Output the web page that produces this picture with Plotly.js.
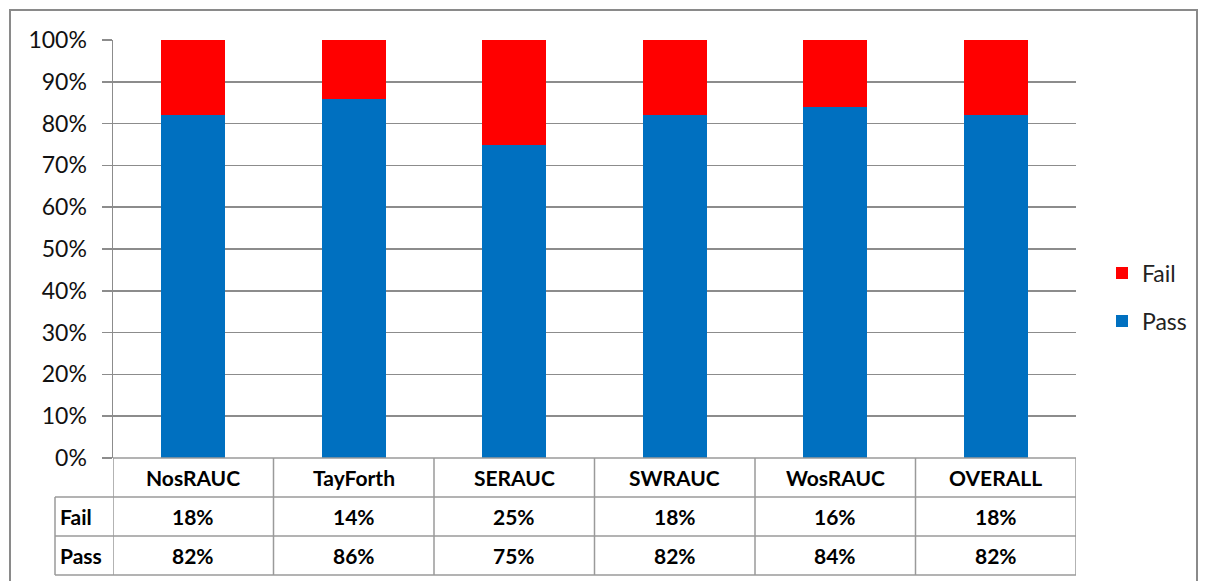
<!DOCTYPE html>
<html>
<head>
<meta charset="utf-8">
<script src="https://cdn.plot.ly/plotly-3.0.1.min.js"></script>
<style>
  html, body { margin: 0; padding: 0; background: #fff; }
  #chart { width: 1208px; height: 581px; }
</style>
</head>
<body>
<div id="chart"></div>
<script>
// Pass / fail share by region
const regions = ['NosRAUC', 'TayForth', 'SERAUC', 'SWRAUC', 'WosRAUC', 'OVERALL'];
const passPct = [82, 86, 75, 82, 84, 82];
const failPct = [18, 14, 25, 18, 16, 18];
const yTicks = [0, 10, 20, 30, 40, 50, 60, 70, 80, 90, 100];

const FONT = 'Lato, "Open Sans", "Liberation Sans", sans-serif';
const GRID = '#8c8c8c';
const TABLE = '#9a9a9a';

const traces = [
  {
    type: 'bar', name: 'Pass', x: regions, y: passPct.map(v => v / 100),
    marker: { color: '#0070C0' }, legend: 'legend2', showlegend: true, hoverinfo: 'x+y'
  },
  {
    type: 'bar', name: 'Fail', x: regions, y: failPct.map(v => v / 100),
    marker: { color: '#FF0000' }, legend: 'legend', showlegend: true, hoverinfo: 'x+y'
  }
];

// Data table under the plot: row edges in paper units
const rowH = 39 / 418;
const yHeadBot = -rowH, yFailBot = -2 * rowH, yPassBot = -3 * rowH;
const xLabelCol = (55 - 113) / 963;

const shapes = [];
function line(xref, x0, x1, y0, y1, color, w) {
  shapes.push({ type: 'line', xref: xref, yref: 'paper', x0: x0, x1: x1, y0: y0, y1: y1,
    line: { color: color, width: w || 1.5 } });
}
// outer chart frame
shapes.push({ type: 'rect', xref: 'paper', yref: 'paper',
  x0: (10 - 113) / 963, x1: (1197 - 113) / 963, y0: -0.33, y1: (458 - 10) / 418,
  line: { color: '#8a8a8a', width: 2 } });
// horizontal table rules
line('paper', 0, 1, 0, 0, TABLE);
[yHeadBot, yFailBot, yPassBot].forEach(y => line('paper', xLabelCol, 1, y, y, TABLE));
// vertical table rules at category boundaries
for (let i = 0; i <= regions.length; i++) {
  line('x', i - 0.5, i - 0.5, 0, yPassBot, TABLE);
}
line('paper', xLabelCol, xLabelCol, yHeadBot, yPassBot, TABLE);

const annotations = [];
const cellFont = { family: FONT, size: 21, color: '#000' };
function cell(xref, x, y, text, align) {
  annotations.push({ xref: xref, yref: 'paper', x: x, y: y, text: '<b>' + text + '</b>',
    showarrow: false, font: cellFont, xanchor: align || 'center', yanchor: 'middle' });
}
regions.forEach((r, i) => {
  cell('x', r, -rowH / 2, r);
  cell('x', r, -1.5 * rowH, failPct[i] + '%');
  cell('x', r, -2.5 * rowH, passPct[i] + '%');
});
cell('paper', xLabelCol + 0.003, -1.5 * rowH, 'Fail', 'left');
cell('paper', xLabelCol + 0.003, -2.5 * rowH, 'Pass', 'left');

const legendFont = { family: FONT, size: 23, color: '#222' };
const legendX = (1102 - 113) / 963;
const layout = {
  width: 1208, height: 581,
  margin: { l: 113, r: 132, t: 40, b: 123, autoexpand: false },
  paper_bgcolor: '#fff', plot_bgcolor: '#fff',
  barmode: 'stack', bargap: 0.6, showlegend: true,
  font: { family: FONT, color: '#111' },
  xaxis: { showticklabels: false, showgrid: false, zeroline: false, ticks: '',
    range: [-0.5, regions.length - 0.5], fixedrange: true },
  yaxis: {
    range: [0, 1], tickvals: yTicks.map(v => v / 100), ticktext: yTicks.map(v => v + '%'),
    showgrid: true, gridcolor: GRID, gridwidth: 1.5, zeroline: false,
    showline: true, linecolor: GRID, linewidth: 1.5,
    ticks: 'outside', ticklen: 10, tickcolor: GRID, tickwidth: 1.5, ticklabelstandoff: 10,
    tickfont: { family: FONT, size: 23, color: '#111' }, fixedrange: true
  },
  legend: { x: legendX, y: (458 - 273) / 418, xanchor: 'left', yanchor: 'middle',
    itemwidth: 30, font: legendFont, bgcolor: 'rgba(0,0,0,0)', visible: true },
  legend2: { x: legendX, y: (458 - 321) / 418, xanchor: 'left', yanchor: 'middle',
    itemwidth: 30, font: legendFont, bgcolor: 'rgba(0,0,0,0)', visible: true },
  shapes: shapes,
  annotations: annotations
};

Plotly.newPlot('chart', traces, layout, { displayModeBar: false, staticPlot: true });
</script>
</body>
</html>
